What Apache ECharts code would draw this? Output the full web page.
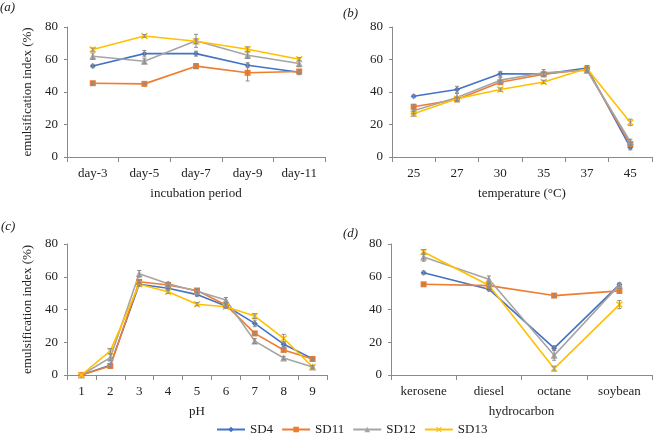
<!DOCTYPE html>
<html><head><meta charset="utf-8">
<script src="https://cdn.jsdelivr.net/npm/echarts@6/dist/echarts.min.js"></script>
<style>html,body{margin:0;padding:0;background:#fff}#c{width:654px;height:437px}</style>
</head><body><div id="c"></div>
<script>
const seriesNames = ['SD4', 'SD11', 'SD12', 'SD13'];
const yTicks = [0, 20, 40, 60, 80];

const catA = ['day-3', 'day-5', 'day-7', 'day-9', 'day-11'];
const a_SD4 = [56.0, 63.6, 63.6, 56.5, 52.2];
const a_SD11 = [45.4, 45.0, 55.9, 51.8, 52.6];
const a_SD12 = [62.0, 58.9, 71.5, 62.6, 57.5];
const a_SD13 = [66.1, 74.5, 71.2, 66.3, 60.2];
const a_err_SD4 = [1, 2, 1.5, 1.5, 1.5];
const a_err_SD11 = [0.8, 0.5, 1.5, 5, 1];
const a_err_SD12 = [2, 1.5, 4, 2, 2];
const a_err_SD13 = [1, 0.8, 1.5, 1.5, 1];

const catB = ['25', '27', '30', '35', '37', '45'];
const b_SD4 = [37.4, 41.5, 51.2, 51.0, 54.8, 5.9];
const b_SD11 = [30.9, 35.4, 46.0, 50.9, 53.8, 8.0];
const b_SD12 = [28.5, 36.6, 47.3, 51.8, 53.4, 9.4];
const b_SD13 = [26.6, 35.8, 41.5, 46.2, 54.4, 21.3];
const b_err_SD4 = [0.8, 2, 1.5, 1, 1.5, 1.5];
const b_err_SD11 = [1.5, 1, 1, 1.5, 1, 1];
const b_err_SD12 = [2, 2.5, 1.5, 2, 1.5, 1.5];
const b_err_SD13 = [1.5, 1, 1, 1, 1.5, 2];

const catC = ['1', '2', '3', '4', '5', '6', '7', '8', '9'];
const c_SD4 = [0, 6.0, 55.4, 53.0, 49.1, 42.2, 31.5, 18.8, 10.0];
const c_SD11 = [0, 5.5, 56.9, 55.0, 51.6, 42.8, 25.4, 15.3, 9.8];
const c_SD12 = [0, 10.6, 61.8, 55.7, 51.2, 45.8, 20.7, 10.4, 4.9];
const c_SD13 = [0, 14.7, 55.4, 50.9, 43.2, 41.7, 36.0, 22.3, 4.9];
const c_err_SD4 = [0, 1, 1, 1, 1, 1, 2, 1.5, 0.5];
const c_err_SD11 = [0, 1, 1, 1, 1, 1, 1, 1, 1];
const c_err_SD12 = [0, 2, 2, 1, 1, 1.5, 1.5, 1, 0.5];
const c_err_SD13 = [0, 1.5, 1, 1, 1, 1, 1.5, 2.5, 1];

const catD = ['kerosene', 'diesel', 'octane', 'soybean'];
const d_SD4 = [62.4, 52.4, 16.4, 55.2];
const d_SD11 = [55.4, 54.6, 48.5, 51.4];
const d_SD12 = [72.0, 58.5, 12.0, 55.0];
const d_SD13 = [75.1, 54.8, 3.9, 43.0];
const d_err_SD4 = [1, 1, 1.5, 1];
const d_err_SD11 = [0.5, 0.5, 1, 1.5];
const d_err_SD12 = [2.5, 2, 3, 1];
const d_err_SD13 = [1.5, 1, 1.5, 2.5];

const panelLabels = ['(a)', '(b)', '(c)', '(d)'];
const xNames = ['incubation period', 'temperature (°C)', 'pH', 'hydrocarbon'];
const yName = 'emulsification index (%)';

// ---- styling ----
const colors = ['#4472C4', '#ED7D31', '#A5A5A5', '#FFC000'];
const xPath = 'path://M0,1.5L1.5,0L5,3.5L8.5,0L10,1.5L6.5,5L10,8.5L8.5,10L5,6.5L1.5,10L0,8.5L3.5,5Z';
const symbols = ['diamond', 'rect', 'triangle', xPath];
const symbolSizes = [6, 6, 7, 7];
const FONT = '"Liberation Serif", "DejaVu Serif", serif';
const axisColor = '#8a8a8a';

const panels = [
  { cats: catA, vals: [a_SD4, a_SD11, a_SD12, a_SD13], errs: [a_err_SD4, a_err_SD11, a_err_SD12, a_err_SD13],
    grid: { left: 67, top: 27, width: 258, height: 130 }, yTitle: true },
  { cats: catB, vals: [b_SD4, b_SD11, b_SD12, b_SD13], errs: [b_err_SD4, b_err_SD11, b_err_SD12, b_err_SD13],
    grid: { left: 392, top: 27, width: 260, height: 130 }, yTitle: false },
  { cats: catC, vals: [c_SD4, c_SD11, c_SD12, c_SD13], errs: [c_err_SD4, c_err_SD11, c_err_SD12, c_err_SD13],
    grid: { left: 67, top: 244, width: 260, height: 131 }, yTitle: true },
  { cats: catD, vals: [d_SD4, d_SD11, d_SD12, d_SD13], errs: [d_err_SD4, d_err_SD11, d_err_SD12, d_err_SD13],
    grid: { left: 391, top: 244, width: 261, height: 131 }, yTitle: false }
];
const labelPos = [[0, 1], [343, 7], [1, 220], [343, 227]];

const grids = [], xAxes = [], yAxes = [], series = [], graphics = [];
panels.forEach((p, pi) => {
  grids.push(Object.assign({ containLabel: false }, p.grid));
  xAxes.push({
    type: 'category', gridIndex: pi, data: p.cats, boundaryGap: true,
    name: xNames[pi], nameLocation: 'middle', nameGap: 30,
    nameTextStyle: { fontFamily: FONT, fontSize: 13, color: '#222' },
    axisLine: { lineStyle: { color: axisColor, width: 1 } },
    axisTick: { show: true, length: 5, lineStyle: { color: axisColor } },
    axisLabel: { fontFamily: FONT, fontSize: 13, color: '#222', margin: 10, interval: 0 },
    splitLine: { show: false }
  });
  yAxes.push({
    type: 'value', gridIndex: pi, min: yTicks[0], max: yTicks[yTicks.length - 1], interval: yTicks[1] - yTicks[0],
    name: p.yTitle ? yName : '', nameLocation: 'middle', nameGap: 33, nameRotate: 90,
    nameTextStyle: { fontFamily: FONT, fontSize: 13, color: '#222' },
    axisLine: { show: true, lineStyle: { color: axisColor, width: 1 } },
    axisTick: { show: true, length: 3, lineStyle: { color: axisColor } },
    axisLabel: { fontFamily: FONT, fontSize: 13, color: '#222', margin: 9 },
    splitLine: { show: false }
  });
  p.vals.forEach((vals, si) => {
    series.push({
      type: 'line', name: seriesNames[si], xAxisIndex: pi, yAxisIndex: pi,
      data: vals, symbol: symbols[si], symbolSize: symbolSizes[si], showSymbol: true,
      lineStyle: { color: colors[si], width: 1.6 },
      itemStyle: { color: colors[si] },
      z: 3, animation: false
    });
  });
  p.vals.forEach((vals, si) => {
    series.push({
      type: 'custom', xAxisIndex: pi, yAxisIndex: pi, z: 4, animation: false, silent: true,
      data: vals.map((v, i) => [i, v, p.errs[si][i]]),
      encode: { x: 0, y: 1 },
      renderItem: function (params, api) {
        const x = api.value(0), v = api.value(1), e = api.value(2);
        if (!e) return null;
        const top = api.coord([x, v + e]);
        const bot = api.coord([x, Math.max(0, v - e)]);
        const w = 2;
        const st = { stroke: '#8c8c8c', lineWidth: 1 };
        return {
          type: 'group', children: [
            { type: 'line', shape: { x1: top[0], y1: top[1], x2: bot[0], y2: bot[1] }, style: st },
            { type: 'line', shape: { x1: top[0] - w, y1: top[1], x2: top[0] + w, y2: top[1] }, style: st },
            { type: 'line', shape: { x1: bot[0] - w, y1: bot[1], x2: bot[0] + w, y2: bot[1] }, style: st }
          ]
        };
      }
    });
  });
  graphics.push({
    type: 'text', left: labelPos[pi][0], top: labelPos[pi][1],
    style: { text: panelLabels[pi], font: 'italic 13px ' + FONT, fill: '#222' }
  });
});

const chart = echarts.init(document.getElementById('c'), null, { renderer: 'canvas' });
chart.setOption({
  animation: false,
  backgroundColor: '#fff',
  grid: grids, xAxis: xAxes, yAxis: yAxes, series: series, graphic: graphics,
  legend: {
    data: seriesNames, left: 216, top: 423, itemWidth: 28, itemHeight: 7, itemGap: 8,
    textStyle: { fontFamily: FONT, fontSize: 13, color: '#222', padding: [0, 0, 0, 0] },
    padding: 0
  }
});
</script></body></html>
